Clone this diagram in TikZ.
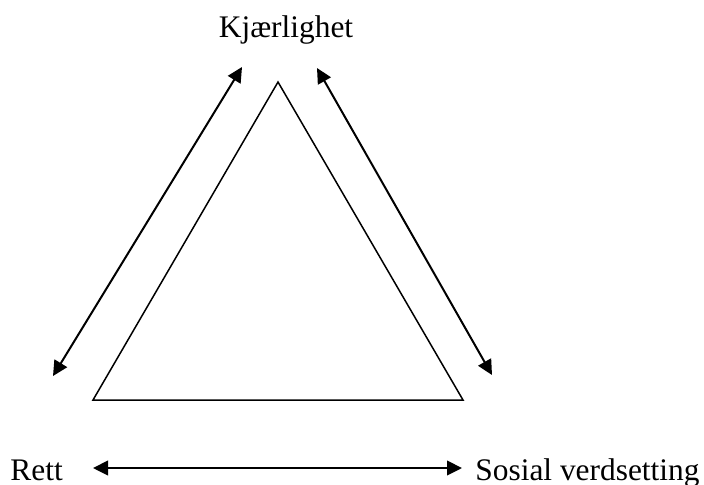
\documentclass[tikz,border=0pt]{standalone}
\usepackage{fontspec}
\setmainfont{Liberation Serif}
\usetikzlibrary{arrows.meta}

\begin{document}
\begin{tikzpicture}[
  x=0.5pt, y=-0.5pt,
  lbl/.style={inner sep=0pt, anchor=base, font=\fontsize{15.7}{18}\selectfont},
  dblarrow/.style={{Triangle[length=7.5pt, width=7.3pt]}-{Triangle[length=7.5pt, width=7.3pt]}, line width=1pt}
]
  \useasboundingbox (0,0) rectangle (704,484);
  % triangle
  \coordinate (apex) at (278,82);
  \coordinate (cornerL) at (93,400);
  \coordinate (cornerR) at (463,400);
  \draw[line width=0.75pt] (apex) -- (cornerL) -- (cornerR) -- cycle;
  % labels
  \node[lbl] (kjaerlighet) at (286,37) {Kjærlighet};
  \node[lbl, anchor=base west] (rett) at (10,480) {Rett};
  \node[lbl, anchor=base west] (sosial) at (475,480) {Sosial verdsetting};
  % arrow ends
  \coordinate (lefttop) at (242,67);
  \coordinate (leftbot) at (53,376);
  \coordinate (righttop) at (317,68);
  \coordinate (rightbot) at (492,375);
  \coordinate (botL) at (93,468);
  \coordinate (botR) at (462,468);
  \draw[dblarrow] (leftbot) -- (lefttop);
  \draw[dblarrow] (righttop) -- (rightbot);
  \draw[dblarrow] (botL) -- (botR);
\end{tikzpicture}
\end{document}
